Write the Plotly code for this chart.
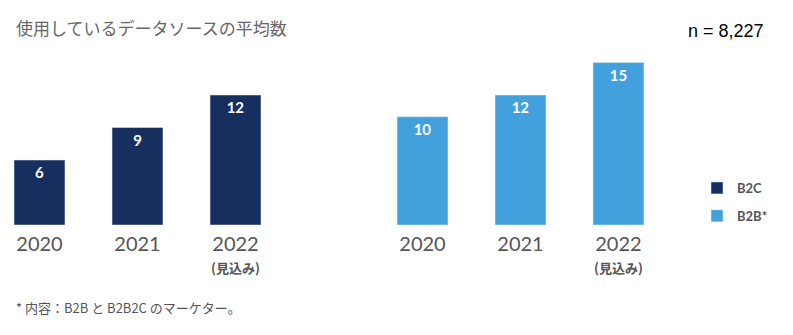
import plotly.graph_objects as go

# ---- data ----
years = ["2020", "2021", "2022"]
year_ticktext = ["2020", "2021", "2022"]
forecast_year = "2022"
forecast_note = "(見込み)"
b2c_values = [6, 9, 12]
b2b_values = [10, 12, 15]
series_names = ["B2C", "B2B*"]
title_text = "使用しているデータソースの平均数"
n_text = "n = 8,227"
footnote_text = "* 内容：B2B と B2B2C のマーケター。"

# ---- style ----
W, H = 793, 335
NAVY = "#172F5F"
BLUE = "#42A0DD"
GRAY = "#555555"
FONT = "Lato, 'Noto Sans CJK JP', sans-serif"
JP = "'Noto Sans CJK JP', Lato, sans-serif"

fig = go.Figure()
fig.add_trace(go.Bar(
    x=years, y=b2c_values, name=series_names[0], marker_color=NAVY,
    width=0.52, text=[str(v) for v in b2c_values], textposition="inside",
    insidetextanchor="end", textangle=0,
    textfont=dict(color="white", size=15, family=FONT, weight="bold"),
    xaxis="x", yaxis="y", legendgroup="a", cliponaxis=False,
))
fig.add_trace(go.Bar(
    x=years, y=b2b_values, name=series_names[1], marker_color=BLUE,
    width=0.52, text=[str(v) for v in b2b_values], textposition="inside",
    insidetextanchor="end", textangle=0,
    textfont=dict(color="white", size=15, family=FONT, weight="bold"),
    xaxis="x2", yaxis="y2", legendgroup="b", cliponaxis=False,
))

ydom = [110 / H, 1]
yr = [0, 225 / 10.83]
common_x = dict(type="category", tickvals=years, ticktext=year_ticktext,
                showgrid=False, zeroline=False, showline=False, ticks="",
                ticklabelstandoff=5,
                tickfont=dict(size=20, color=GRAY, family=FONT), fixedrange=True)

annotations = [
    dict(text=title_text, x=14 / W, y=1 - 28 / H, xref="paper", yref="paper",
         xanchor="left", yanchor="middle", showarrow=False,
         font=dict(size=17, color="#666666", family=JP)),
    dict(text=n_text, x=766 / W, y=1 - 31 / H, xref="paper", yref="paper",
         xanchor="right", yanchor="middle", showarrow=False,
         font=dict(size=18, color="black", family="Liberation Sans, Arial, sans-serif")),
    dict(text=footnote_text, x=14 / W, y=1 - 307 / H, xref="paper", yref="paper",
         xanchor="left", yanchor="middle", showarrow=False,
         font=dict(size=13, color=GRAY, family=JP)),
]
for xr in ["x", "x2"]:
    annotations.append(dict(
        text="<b>" + forecast_note + "</b>", x=years.index(forecast_year), xref=xr,
        y=1 - 267 / H, yref="paper", xanchor="center", yanchor="middle",
        showarrow=False, font=dict(size=13, color=GRAY, family=JP)))

fig.update_layout(
    width=W, height=H,
    margin=dict(l=0, r=0, t=0, b=0),
    paper_bgcolor="white", plot_bgcolor="white",
    showlegend=True,
    legend=dict(x=697 / W, y=1 - 173 / H, xanchor="left", yanchor="top",
                font=dict(size=13, color=GRAY, family=FONT, weight="bold"),
                tracegroupgap=8, bgcolor="rgba(0,0,0,0)"),
    xaxis=dict(domain=[0, 290 / W], range=[-0.403, 2.556], anchor="y", **common_x),
    xaxis2=dict(domain=[380 / W, 670 / W], range=[-0.434, 2.526], anchor="y2", **common_x),
    yaxis=dict(domain=ydom, range=yr, visible=False, fixedrange=True),
    yaxis2=dict(domain=ydom, range=yr, visible=False, fixedrange=True, anchor="x2"),
    annotations=annotations,
)

fig.write_html("out.html")
